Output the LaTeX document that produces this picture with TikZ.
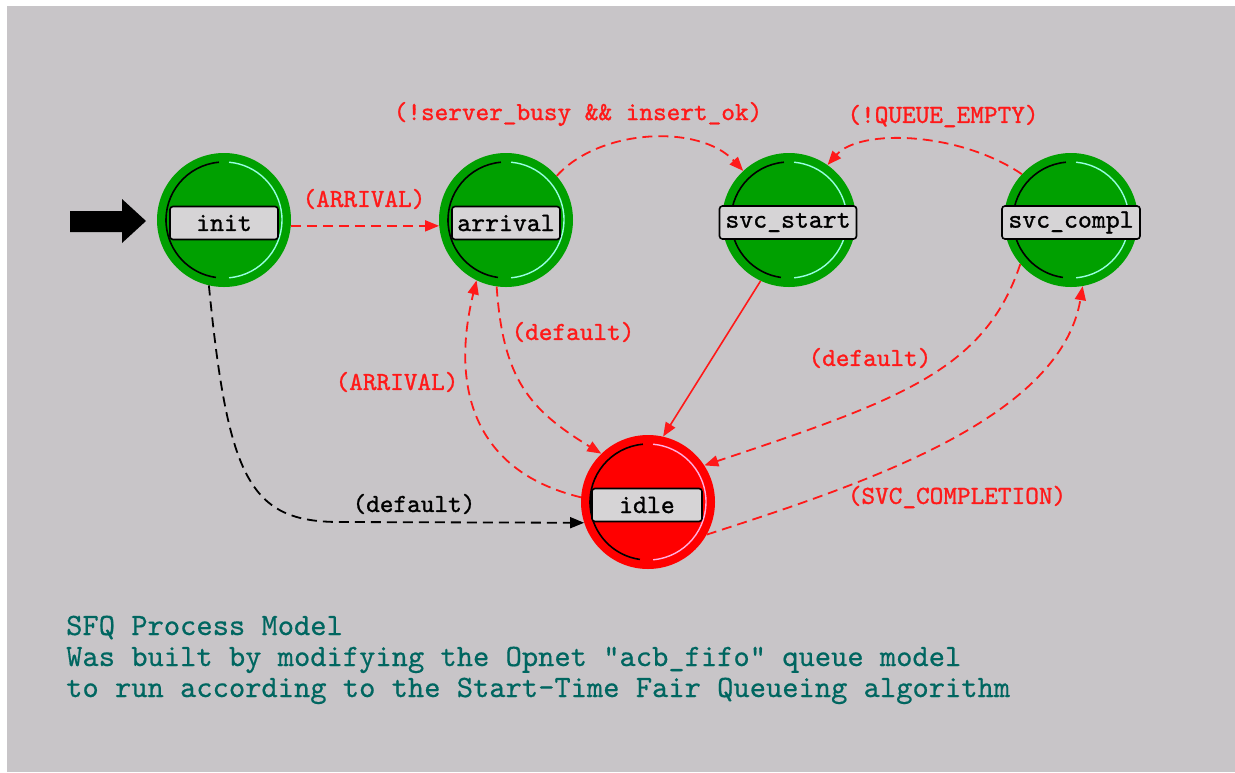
\documentclass[tikz,border=0pt]{standalone}
\usepackage{fontspec}
\newfontfamily\pixmono{lmmono10-regular.otf}[FakeBold=1.1]
\newfontfamily\pixmonolt{lmmono10-regular.otf}[FakeBold=0.5]
\usetikzlibrary{arrows.meta}
\definecolor{bggray}{RGB}{200,197,200}
\definecolor{stgreen}{RGB}{0,160,0}
\definecolor{stred}{RGB}{255,0,0}
\definecolor{lblfill}{RGB}{214,212,214}
\definecolor{notetxt}{RGB}{0,102,96}
\definecolor{litecyan}{RGB}{150,255,225}
\definecolor{litepink}{RGB}{255,175,225}
\definecolor{edgered}{RGB}{255,25,25}
\newcommand\stbevel[3]{%
  \draw[#2, line width=1.6pt] (#1.center) ++(-95:58) arc[start angle=-95, end angle=-262, radius=58];
  \draw[#3, line width=1.4pt] (#1.center) ++(85:58) arc[start angle=85, end angle=-85, radius=58];}
\tikzset{
  state/.style={circle, minimum size=134pt, inner sep=0pt, draw=none},
  statelbl/.style={rectangle, rounded corners=3pt, draw=black, line width=1.6pt, fill=lblfill,
    minimum height=33pt, inner sep=0pt, font=\pixmono\fontsize{26.5}{27}\selectfont},
  tip/.style={-{Triangle[length=14pt,width=11pt]}},
  trans/.style={draw=edgered, line width=1.8pt, dash pattern=on 10pt off 6pt, tip},
  solidtrans/.style={draw=edgered, line width=1.6pt, tip},
  deftrans/.style={draw=black, line width=1.8pt, dash pattern=on 10pt off 6pt, tip},
  cond/.style={text=edgered, font=\pixmono\fontsize{26}{26}\selectfont, inner sep=0pt},
  defcond/.style={text=black, font=\pixmono\fontsize{26}{26}\selectfont, inner sep=0pt},
  note/.style={text=notetxt, font=\pixmonolt\fontsize{31}{31}\selectfont, anchor=base west, inner sep=0pt},
}
\begin{document}
\begin{tikzpicture}[x=1pt,y=-1pt]
\useasboundingbox (0,0) rectangle (1235,772);
\fill[white] (0,0) rectangle (1235,772);
\fill[bggray] (7,6) rectangle (1235,772);

% entry arrow
\fill[black] (70,211) -- (122,211) -- (122,199) -- (146,221) -- (122,243) -- (122,232) -- (70,232) -- cycle;

% states
\node[state, fill=stgreen] (init) at (224,220) {};
\node[state, fill=stgreen] (arrival) at (506,220) {};
\node[state, fill=stgreen] (svcstart) at (789,220) {};
\node[state, fill=stgreen] (svccompl) at (1071,220) {};
\node[state, fill=stred] (idle) at (648,502) {};
\stbevel{init}{black}{litecyan}
\stbevel{arrival}{black}{litecyan}
\stbevel{svcstart}{black}{litecyan}
\stbevel{svccompl}{black}{litecyan}
\stbevel{idle}{black}{litepink}
\node[statelbl, minimum width=108pt] (initlbl) at (224,223) {init};
\node[statelbl, minimum width=108pt] (arrivallbl) at (506,223) {arrival};
\node[statelbl, minimum width=137pt] (svcstartlbl) at (788,222.5) {svc\_start};
\node[statelbl, minimum width=138pt] (svccompllbl) at (1071,222.5) {svc\_compl};
\node[statelbl, minimum width=110pt] (idlelbl) at (647,505) {idle};

% transitions
\draw[trans] (init.-5) -- (arrival.185);
\draw[trans] (arrival.41) .. controls (600,128) and (700,124) .. (svcstart.133);
\draw[trans] (svccompl.137) .. controls (960,132) and (860,128) .. (svcstart.55);
\draw[trans] (arrival.262) .. controls (503,380) and (530,410) .. (idle.134);
\draw[trans] (idle.176) .. controls (468,470) and (452,380) .. (arrival.244);
\draw[solidtrans] (svcstart.245) -- (idle.77);
\draw[trans] (svccompl.221) .. controls (985,370) and (900,400) .. (idle.33);
\draw[trans] (idle.331) .. controls (860,485) and (1060,420) .. (svccompl.280);
\draw[deftrans] (init.257) .. controls (228,480) and (250,522) .. (340,522) -- (idle.198);

% conditions
\node[cond] (c1) at (364,199) {(ARRIVAL)};
\node[cond] (c2) at (578,114) {(!server\_busy \&\& insert\_ok)};
\node[cond] (c3) at (943,116) {(!QUEUE\_EMPTY)};
\node[cond] (c4) at (573,332) {(default)};
\node[cond] (c5) at (397,382) {(ARRIVAL)};
\node[cond] (c6) at (870,358) {(default)};
\node[cond] (c7) at (957,497) {(SVC\_COMPLETION)};
\node[defcond] (c8) at (414,504) {(default)};

% note
\node[note] (n1) at (66,635) {SFQ Process Model};
\node[note] (n2) at (66,666) {Was built by modifying the Opnet "acb\_fifo" queue model};
\node[note] (n3) at (66,697) {to run according to the Start-Time Fair Queueing algorithm};
\end{tikzpicture}
\end{document}
